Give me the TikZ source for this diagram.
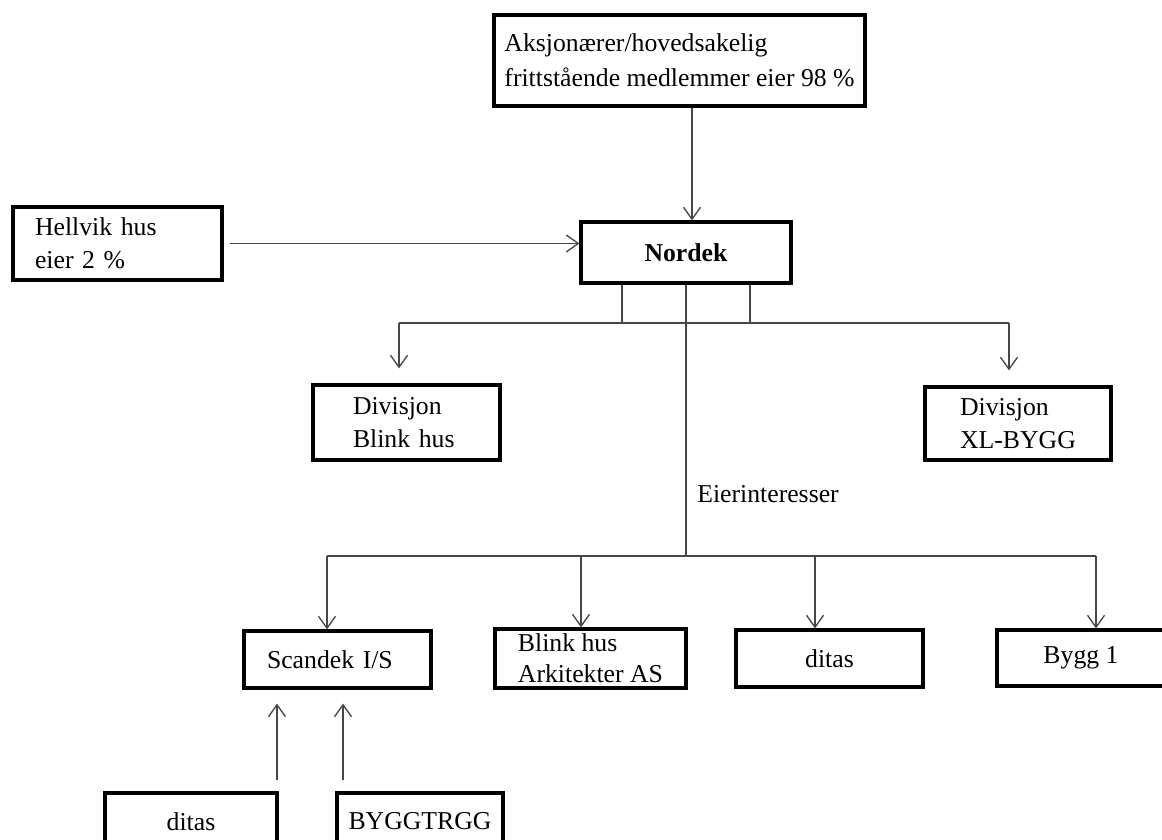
\documentclass[tikz,border=0pt]{standalone}
\usepackage{fontspec}
\setmainfont{Liberation Serif}
\usetikzlibrary{arrows.meta}
\tikzset{
  orgbox/.style={draw=black, line width=2.4pt, fill=white, inner xsep=0pt, inner ysep=0pt, align=left, font=\fontsize{19.3}{24.5}\selectfont},
  conn/.style={draw=black!72, line width=1pt},
  arr/.style={conn, -{Straight Barb[length=9pt,width=12.75pt]}},
}
\begin{document}
\begin{tikzpicture}[x=0.75pt,y=0.75pt,yscale=-1,xscale=1]
\useasboundingbox (0,0) rectangle (1162,839);
\clip (0,0) rectangle (1162,839);

%Shape: Rectangle [owners]
\node[orgbox, minimum width=278.25pt, minimum height=68.25pt, font=\fontsize{19.3}{26.25}\selectfont] (eier) at (679.5,60.5) {Aksjonærer/hovedsakelig\\frittstående medlemmer eier 98 \%};
%Shape: Rectangle [Hellvik]
\node[orgbox, minimum width=156.75pt, minimum height=54.75pt, text width=123.75pt] (hellvik) at (117.5,243.5) {Hellvik hus\\eier 2 \%};
%Shape: Rectangle [Nordek]
\node[orgbox, minimum width=157.5pt, minimum height=45.75pt, font=\fontsize{19.3}{24.5}\selectfont\bfseries] (nordek) at (686,252.5) {Nordek};
%Shape: Rectangle [divisions]
\node[orgbox, minimum width=140.25pt, minimum height=56.25pt, text width=80.25pt] (divblink) at (406.5,422.5) {Divisjon\\Blink hus};
\node[orgbox, minimum width=139.5pt, minimum height=54.75pt] (divxl) at (1018,423.5) {Divisjon\\XL-BYGG};
%Shape: Rectangle [owned]
\node[orgbox, minimum width=140.25pt, minimum height=42.75pt, text width=105.75pt] (scandek) at (337.5,659.5) {Scandek I/S};
\node[orgbox, minimum width=143.25pt, minimum height=44.25pt, font=\fontsize{19.3}{23.25}\selectfont] (blinkark) at (590.5,658.5) {Blink hus\\Arkitekter AS};
\node[orgbox, minimum width=140.25pt, minimum height=42.75pt] (ditasa) at (829.5,658.5) {ditas};
\node[orgbox, minimum width=126pt, minimum height=42pt] (bygg) at (1081,658) {Bygg 1};
%Shape: Rectangle [partners]
\node[orgbox, minimum width=129pt, minimum height=42.75pt] (ditasb) at (191,821.5) {ditas};
\node[orgbox, minimum width=124.5pt, minimum height=42.75pt] (byggtrgg) at (420,821.5) {BYGGTRGG};

% Text Node
\node[anchor=base west, inner sep=0pt, font=\fontsize{19.3}{24.5}\selectfont] (eierlbl) at (697,502) {Eierinteresser};

%Straight Lines [top]
\coordinate (nin) at (692,0);
\draw[arr] (eier.south -| nin) -- (nordek.north -| nin);
\draw[arr] ([xshift=4.5pt]hellvik.east) -- (hellvik.east -| nordek.west);

%Straight Lines [divisions]
\coordinate (busL) at (399,323);
\coordinate (busR) at (1009,323);
\foreach \sx in {622,750}
  \draw[conn] (nordek.south -| \sx,0) -- (busL -| \sx,0);
\draw[conn] (busL) -- (busR);
\draw[arr, shorten >=11.25pt] (busL) -- (divblink.north -| busL);
\draw[arr, shorten >=11.25pt] (busR) -- (divxl.north -| busR);

%Straight Lines [interests]
\coordinate (hub) at (686,556);
\coordinate (hubL) at (327,556);
\coordinate (hubR) at (1096,556);
\draw[conn] (nordek.south) -- (hub);
\draw[conn] (hubL) -- (hubR);
\foreach \n/\x in {scandek/327, blinkark/581, ditasa/815, bygg/1096}
  \draw[arr] (hubL -| \x,0) -- (\n.north -| \x,0);

%Straight Lines [partners]
\foreach \x/\n in {277/ditasb, 343/byggtrgg}
  \draw[arr, shorten <=8.25pt, shorten >=10.5pt] (\n.north -| \x,0) -- (scandek.south -| \x,0);
\end{tikzpicture}
\end{document}
